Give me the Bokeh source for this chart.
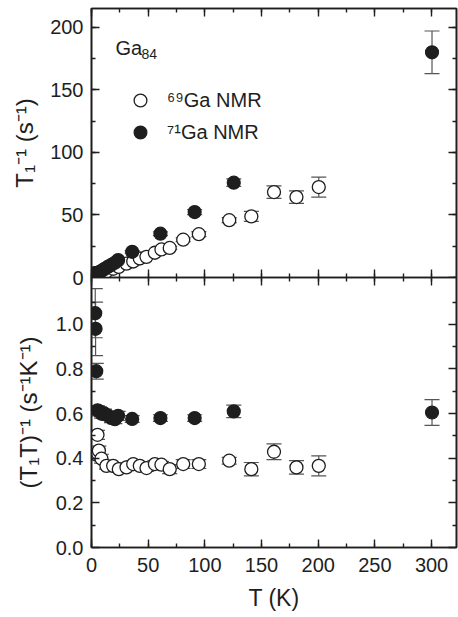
from bokeh.plotting import figure
from bokeh.layouts import column
from bokeh.models import (ColumnDataSource, Range1d, LinearAxis, SingleIntervalTicker,
                          FixedTicker, Whisker, TeeHead, Legend, LegendItem, Label,
                          CustomJSTickFormatter, PrintfTickFormatter)
from bokeh.embed import file_html
from bokeh.resources import INLINE

# ---------------- data ----------------
# 69Ga NMR (open circles)
t69 = [4.4, 5.3, 5.9, 6.5, 8.8, 13.2, 19.1, 24.1, 30.9, 36.8, 42.6, 48.5, 55.9, 61.7,
       69.0, 80.9, 94.7, 121.5, 141.0, 161.0, 180.8, 200.5]
rate69 = [1.8, 2.7, 2.5, 2.8, 3.5, 4.8, 7.0, 8.5, 11.1, 12.8, 15.2, 16.5, 19.8, 22.4,
          23.6, 30.2, 34.6, 45.8, 48.8, 68.3, 64.3, 72.3]
rate69_err = [0.5, 0.5, 0.5, 0.5, 0.5, 0.5, 0.5, 0.5, 0.6, 0.7, 0.8, 0.8, 1.0, 1.0,
              1.2, 1.5, 2.0, 2.0, 4.0, 5.0, 5.0, 8.0]
rt69 = [0.416, 0.505, 0.42, 0.434, 0.398, 0.366, 0.366, 0.351, 0.359, 0.374, 0.366, 0.356,
        0.374, 0.371, 0.351, 0.374, 0.374, 0.389, 0.351, 0.429, 0.359, 0.366]
rt69_err = [0.02, 0.02, 0.02, 0.02, 0.02, 0.015, 0.015, 0.015, 0.015, 0.015, 0.015, 0.015,
            0.015, 0.015, 0.02, 0.02, 0.02, 0.015, 0.03, 0.035, 0.03, 0.045]

# 71Ga NMR (filled circles)
t71 = [3.3, 3.6, 4.2, 5.3, 7.0, 8.8, 11.5, 14.7, 17.6, 20.6, 23.5, 35.9, 60.8, 91.0,
       125.5, 300.4]
rate71 = [3.5, 3.5, 3.3, 3.3, 4.3, 5.3, 6.9, 8.7, 10.2, 11.8, 13.9, 20.5, 35.0, 52.3,
          75.8, 180.0]
rate71_err = [0.3, 0.3, 0.3, 0.3, 0.4, 0.5, 0.5, 0.6, 0.7, 0.8, 0.8, 1.0, 1.5, 2.0,
              3.0, 17.0]
rt71 = [1.05, 0.98, 0.79, 0.615, 0.61, 0.60, 0.60, 0.59, 0.58, 0.575, 0.59, 0.576,
        0.58, 0.58, 0.61, 0.605]
rt71_err = [0.11, 0.12, 0.035, 0.02, 0.02, 0.02, 0.02, 0.02, 0.02, 0.02, 0.02, 0.015,
            0.015, 0.015, 0.028, 0.058]

x_ticks_major = 50
top_y_major = 50
bot_y_ticks = [0.0, 0.2, 0.4, 0.6, 0.8, 1.0]
bot_y_minor = [0.1, 0.3, 0.5, 0.7, 0.9, 1.1]

# ---------------- styling helpers ----------------
FONT = "Liberation Sans"
INK = "#1e1e1e"
BLANK = CustomJSTickFormatter(code="return ''")


def style_axis(ax, labels=True):
    ax.axis_line_color = INK
    ax.axis_line_width = 1.6
    ax.major_tick_in = 8
    ax.major_tick_out = 0
    ax.minor_tick_in = 4
    ax.minor_tick_out = 0
    ax.major_tick_line_color = INK
    ax.minor_tick_line_color = INK
    ax.major_tick_line_width = 1.4
    ax.minor_tick_line_width = 1.4
    ax.major_label_text_font = FONT
    ax.major_label_text_color = INK
    ax.axis_label_text_font = FONT
    ax.axis_label_text_font_style = "normal"
    ax.axis_label_text_color = INK
    if labels:
        ax.major_label_text_font_size = "20px"
        ax.major_label_standoff = 8
    else:
        ax.formatter = BLANK
        ax.major_label_text_font_size = "1px"
        ax.major_label_standoff = 0
        ax.axis_label = None


def make_source(t, v, e):
    return ColumnDataSource(dict(t=t, v=v, lo=[a - b for a, b in zip(v, e)],
                                 hi=[a + b for a, b in zip(v, e)]))


def add_series(p, src, filled):
    w = Whisker(source=src, base="t", lower="lo", upper="hi", dimension="height",
                line_color="#555555", line_width=1.2,
                lower_head=TeeHead(size=15, line_color="#555555", line_width=1.2),
                upper_head=TeeHead(size=15, line_color="#555555", line_width=1.2))
    if filled:
        r = p.scatter("t", "v", source=src, size=13, marker="circle",
                      fill_color=INK, line_color=INK, line_width=1.2)
        w.level = "underlay"
    else:
        r = p.scatter("t", "v", source=src, size=13, marker="circle",
                      fill_color="white", line_color=INK, line_width=1.3)
    p.add_layout(w)
    return r


def base_fig(h, y_range, min_top, min_bottom):
    p = figure(width=458, height=h,
               x_range=Range1d(0, 322), y_range=y_range,
               output_backend="svg", toolbar_location=None,
               min_border_left=91, min_border_right=2, min_border_top=min_top,
               min_border_bottom=min_bottom, x_axis_type=None, y_axis_type=None)
    p.grid.visible = False
    p.outline_line_color = INK
    p.outline_line_width = 1.6
    p.background_fill_color = "white"
    p.border_fill_color = "white"
    return p


# ---------------- top panel ----------------
OVER = 12
p1 = base_fig(8 + 269 + OVER, Range1d(0, 215), 8, OVER)
xt1 = SingleIntervalTicker(interval=x_ticks_major, num_minor_ticks=2)
yt1 = SingleIntervalTicker(interval=top_y_major, num_minor_ticks=2)

ax = LinearAxis(ticker=xt1); style_axis(ax, labels=False); p1.add_layout(ax, "below")
ax = LinearAxis(ticker=xt1); style_axis(ax, labels=False); p1.add_layout(ax, "above")
ay = LinearAxis(ticker=yt1, axis_label="T\u2081\u207b\u00b9 (s\u207b\u00b9)")
style_axis(ay)
ay.axis_label_text_font_size = "24px"
ay.axis_label_standoff = 9
p1.add_layout(ay, "left")
ay = LinearAxis(ticker=yt1); style_axis(ay, labels=False); p1.add_layout(ay, "right")

r69_top = add_series(p1, make_source(t69, rate69, rate69_err), filled=False)
r71_top = add_series(p1, make_source(t71, rate71, rate71_err), filled=True)

legend = Legend(items=[LegendItem(label="\u2076\u2079Ga NMR", renderers=[r69_top]),
                       LegendItem(label="\u2077\u00b9Ga NMR", renderers=[r71_top])],
                location=(33, 129), orientation="vertical",
                glyph_width=32, glyph_height=32, spacing=0, padding=0, margin=0,
                label_standoff=11, label_text_font=FONT, label_text_font_size="20px",
                label_text_color=INK, border_line_alpha=0, background_fill_alpha=0)
p1.add_layout(legend, "center")

p1.add_layout(Label(x=24, y=230, x_units="screen", y_units="screen", text="Ga",
                    text_font=FONT, text_font_size="20px", text_color=INK,
                    text_baseline="alphabetic"))
p1.add_layout(Label(x=50, y=224, x_units="screen", y_units="screen", text="84",
                    text_font=FONT, text_font_size="14px", text_color=INK,
                    text_baseline="alphabetic"))

# ---------------- bottom panel ----------------
p2 = base_fig(617 - 277, Range1d(0, 1.21), 0, 70)
p2.border_fill_alpha = 0
p2.margin = (-OVER, 0, 0, 0)
xt2 = SingleIntervalTicker(interval=x_ticks_major, num_minor_ticks=2)
yt2 = FixedTicker(ticks=bot_y_ticks, minor_ticks=bot_y_minor)

ax = LinearAxis(ticker=xt2, axis_label="T (K)")
style_axis(ax)
ax.axis_label_text_font_size = "23px"
ax.axis_label_standoff = 10
ax.major_label_standoff = 10
p2.add_layout(ax, "below")
ax = LinearAxis(ticker=xt2); style_axis(ax, labels=False); p2.add_layout(ax, "above")
ay = LinearAxis(ticker=yt2, axis_label="(T\u2081T)\u207b\u00b9 (s\u207b\u00b9K\u207b\u00b9)",
                formatter=PrintfTickFormatter(format="%.1f"))
style_axis(ay)
ay.axis_label_text_font_size = "24px"
ay.axis_label_standoff = 11
p2.add_layout(ay, "left")
ay = LinearAxis(ticker=yt2); style_axis(ay, labels=False); p2.add_layout(ay, "right")

add_series(p2, make_source(t69, rt69, rt69_err), filled=False)
add_series(p2, make_source(t71, rt71, rt71_err), filled=True)

layout = column(p1, p2, spacing=0)
open("out.html", "w").write(file_html(layout, INLINE))
